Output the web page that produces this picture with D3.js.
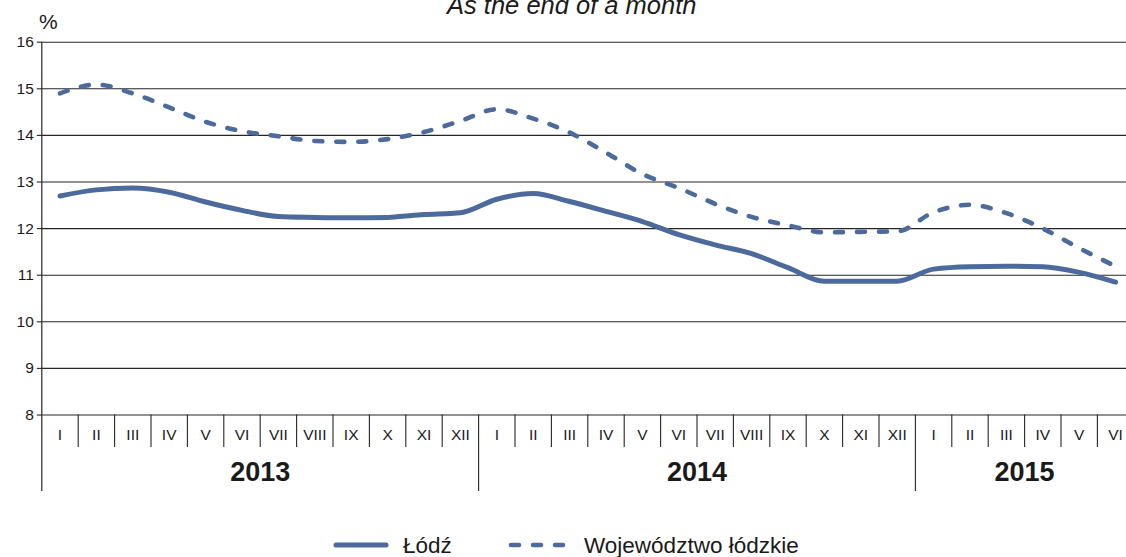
<!DOCTYPE html>
<html><head><meta charset="utf-8">
<script src="https://cdn.jsdelivr.net/npm/d3@7"></script>
<style>html,body{margin:0;padding:0;background:#fff;overflow:hidden}</style>
</head><body><svg id="chart" width="1126" height="557"></svg>
<script>
// ---- data ----
const months = ["I","II","III","IV","V","VI","VII","VIII","IX","X","XI","XII",
                "I","II","III","IV","V","VI","VII","VIII","IX","X","XI","XII",
                "I","II","III","IV","V","VI"];
const years = ["2013","2014","2015"];
const monthsPerYear = [12, 12, 6];
const lodz = [12.69, 12.82, 12.86, 12.77, 12.56, 12.38, 12.25, 12.23, 12.22, 12.23, 12.29, 12.33,
              12.62, 12.74, 12.57, 12.36, 12.14, 11.86, 11.64, 11.45, 11.15, 10.86, 10.86, 10.86,
              11.12, 11.17, 11.18, 11.17, 11.05, 10.84];
const wojewodztwo = [14.89, 15.08, 14.89, 14.59, 14.28, 14.08, 13.97, 13.87, 13.85, 13.91, 14.06, 14.30,
                     14.55, 14.35, 14.05, 13.62, 13.16, 12.86, 12.52, 12.24, 12.06, 11.91, 11.92, 11.93,
                     12.34, 12.50, 12.32, 11.99, 11.57, 11.18];
const yTicks = [8, 9, 10, 11, 12, 13, 14, 15, 16];
const seriesNames = ["Łódź", "Województwo łódzkie"];
const titleText = "As the end of a month";
const unitText = "%";

// ---- drawing ----
const FONT = "'Liberation Sans', Arial, sans-serif";
const COLOR = "#4d6a9c";
const TEXT = "#1a1a1a";
const svg = d3.select("#chart");

const left = 41.8, plotTop = 41.7, plotBottom = 414.5;
const x = d3.scaleBand().domain(d3.range(months.length)).range([left, 1133.8]).padding(0);
const y = d3.scaleLinear().domain([8, 16]).range([plotBottom, plotTop]);
const bw = x.bandwidth();

// gridlines
const grid = svg.append("g").attr("transform", `translate(${left},0)`)
  .call(d3.axisLeft(y).tickValues(yTicks).tickSize(-(1134 - left)).tickFormat(""));
grid.select(".domain").remove();
grid.selectAll("line").attr("stroke", "#262626").attr("stroke-width", 1.1);

// y tick labels + short ticks
const yax = svg.append("g").attr("transform", `translate(${left},0)`)
  .call(d3.axisLeft(y).tickValues(yTicks).tickSize(5).tickPadding(3).tickFormat(d3.format("d")));
yax.select(".domain").remove();
yax.selectAll("line").attr("stroke", "#262626").attr("stroke-width", 1.1);
yax.selectAll("text").attr("font-family", FONT).attr("font-size", 15.5).attr("fill", TEXT);

// vertical axis line
svg.append("line").attr("x1", left).attr("x2", left).attr("y1", plotTop).attr("y2", 491)
  .attr("stroke", "#262626").attr("stroke-width", 1.2);

// month boundary ticks and year separators
const yearBounds = d3.cumsum(monthsPerYear);
const boundaries = d3.range(1, months.length + 1);
svg.append("g").selectAll("line").data(boundaries).join("line")
  .attr("x1", k => x(k - 1) + bw).attr("x2", k => x(k - 1) + bw)
  .attr("y1", plotBottom)
  .attr("y2", k => yearBounds.includes(k) ? 491 : 447)
  .attr("stroke", "#262626").attr("stroke-width", 1.1);

// month labels
const xax = svg.append("g").attr("transform", `translate(0,${plotBottom})`)
  .call(d3.axisBottom(x).tickSize(0).tickFormat(i => months[i]));
xax.select(".domain").remove();
xax.selectAll("text").attr("font-family", FONT).attr("font-size", 15.5).attr("fill", TEXT)
  .attr("dy", null).attr("y", 25);

// year labels
let start = 0;
years.forEach((yr, i) => {
  const s = start, e = start + monthsPerYear[i] - 1;
  const cx = (x(s) + x(e) + bw) / 2;
  svg.append("text").attr("x", cx).attr("y", 481).attr("text-anchor", "middle")
    .attr("font-family", FONT).attr("font-size", 27).attr("font-weight", "bold").attr("fill", TEXT)
    .text(yr);
  start += monthsPerYear[i];
});

// lines
const lineGen = d3.line().x((d, i) => x(i) + bw / 2).y(d => y(d)).curve(d3.curveMonotoneX);
svg.append("path").datum(wojewodztwo).attr("d", lineGen)
  .attr("fill", "none").attr("stroke", COLOR).attr("stroke-width", 4.6)
  .attr("stroke-dasharray", "8,14").attr("stroke-linecap", "round");
svg.append("path").datum(lodz).attr("d", lineGen)
  .attr("fill", "none").attr("stroke", COLOR).attr("stroke-width", 5)
  .attr("stroke-linecap", "round").attr("stroke-linejoin", "round");

// title and unit
svg.append("text").attr("x", 447).attr("y", 13.5).attr("font-family", FONT).attr("font-size", 25.5)
  .attr("font-style", "italic").attr("fill", TEXT).text(titleText);
svg.append("text").attr("x", 39).attr("y", 29).attr("font-family", FONT).attr("font-size", 21)
  .attr("fill", TEXT).text(unitText);

// legend
const lg = svg.append("g");
lg.append("line").attr("x1", 336).attr("x2", 386).attr("y1", 545).attr("y2", 545)
  .attr("stroke", COLOR).attr("stroke-width", 5).attr("stroke-linecap", "round");
lg.append("text").attr("x", 403).attr("y", 553).attr("font-family", FONT).attr("font-size", 22.5)
  .attr("fill", TEXT).text(seriesNames[0]);
lg.append("line").attr("x1", 511).attr("x2", 566).attr("y1", 545).attr("y2", 545)
  .attr("stroke", COLOR).attr("stroke-width", 4.6).attr("stroke-dasharray", "8,14")
  .attr("stroke-linecap", "round");
lg.append("text").attr("x", 584).attr("y", 553).attr("font-family", FONT).attr("font-size", 22.5)
  .attr("fill", TEXT).text(seriesNames[1]);
</script></body></html>
